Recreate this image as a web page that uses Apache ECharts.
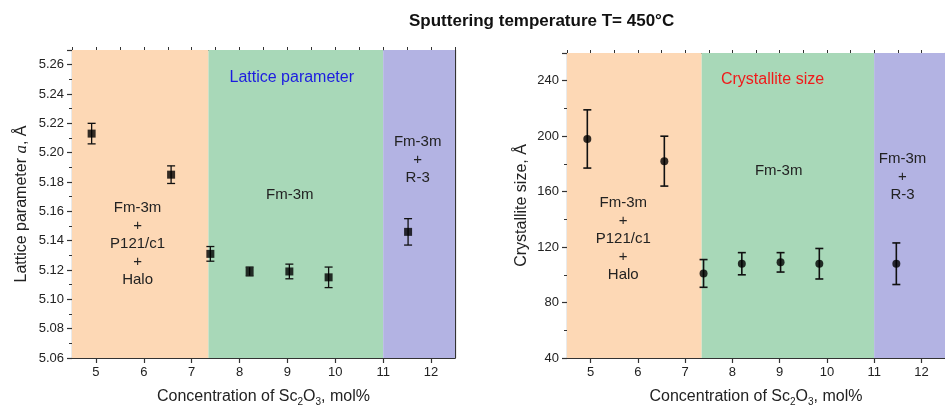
<!DOCTYPE html>
<html>
<head>
<meta charset="utf-8">
<script src="https://cdn.jsdelivr.net/npm/echarts@6/dist/echarts.min.js"></script>
<style>
  html, body { margin: 0; padding: 0; background: #fff; }
  #chart { width: 945px; height: 412px; }
</style>
</head>
<body>
<div id="chart"></div>
<script>
// Sc2O3 concentration (mol%) and lattice parameter a (Å)
const latticeX = [4.91, 6.57, 7.39, 8.21, 9.04, 9.86, 11.52];
const latticeA = [5.213, 5.185, 5.131, 5.119, 5.119, 5.115, 5.146];
const latticeErr = [0.007, 0.006, 0.005, 0.003, 0.005, 0.007, 0.009];

// Sc2O3 concentration (mol%) and crystallite size (Å)
const sizeX = [4.93, 6.56, 7.39, 8.20, 9.02, 9.84, 11.47];
const sizeD = [198, 182, 101, 108, 109, 108, 108];
const sizeErr = [21, 18, 10, 8, 7, 11, 15];

// phase regions along the concentration axis
const phaseBounds = [4.5, 7.35, 11.0, 12.5];
const phaseColors = ['#fdd8b5', '#a8d8b8', '#b3b3e3'];

const FONT = 'Liberation Sans, Arial, sans-serif';
const AXIS_COLOR = '#333';
const TEXT_COLOR = '#222';

function errorData(xs, ys, errs) {
    return xs.map((x, i) => [x, ys[i] - errs[i], ys[i] + errs[i]]);
}

function errorBarRenderer(lineWidth) {
    return (params, api) => {
        const x = api.value(0);
        const bottom = api.coord([x, api.value(1)]);
        const top = api.coord([x, api.value(2)]);
        const cap = 4;
        const style = { stroke: '#111', lineWidth };
        return {
            type: 'group',
            children: [
                { type: 'line', shape: { x1: top[0], y1: top[1], x2: bottom[0], y2: bottom[1] }, style },
                { type: 'line', shape: { x1: top[0] - cap, y1: top[1], x2: top[0] + cap, y2: top[1] }, style },
                { type: 'line', shape: { x1: bottom[0] - cap, y1: bottom[1], x2: bottom[0] + cap, y2: bottom[1] }, style },
            ],
        };
    };
}

function phaseAreas() {
    return phaseColors.map((c, i) => [
        { xAxis: phaseBounds[i], itemStyle: { color: c, opacity: 1 } },
        { xAxis: phaseBounds[i + 1] },
    ]);
}

function textMark(coord, text, extra) {
    return {
        coord,
        label: Object.assign({
            show: true, position: 'inside', formatter: text,
            fontSize: 15, lineHeight: 18, color: TEXT_COLOR, fontFamily: FONT,
        }, extra || {}),
    };
}

// main x axis, its minor ticks, and the top frame line
function xAxes(gridIndex) {
    const base = { type: 'value', gridIndex, min: 4.5, max: 12.5, splitLine: { show: false } };
    return [
        Object.assign({}, base, {
            splitNumber: 8,
            name: 'Concentration of Sc{sub|2}O{sub|3}, mol%',
            nameLocation: 'middle',
            nameGap: 29,
            nameTextStyle: {
                fontSize: 16, color: TEXT_COLOR, fontFamily: FONT, lineHeight: 20,
                rich: { sub: { fontSize: 10, verticalAlign: 'bottom', lineHeight: 20, fontFamily: FONT, color: TEXT_COLOR } },
            },
            axisLine: { lineStyle: { color: AXIS_COLOR, width: 1.2 } },
            axisTick: { length: 5, lineStyle: { color: AXIS_COLOR, width: 1.2 } },
            axisLabel: { fontSize: 13, color: TEXT_COLOR, fontFamily: FONT, margin: 8, showMinLabel: false, showMaxLabel: false },
        }),
        Object.assign({}, base, {
            interval: 0.5,
            axisLine: { show: false },
            axisTick: { length: 3, lineStyle: { color: AXIS_COLOR, width: 1 } },
            axisLabel: { show: false },
        }),
        Object.assign({}, base, {
            position: 'top',
            axisLine: { lineStyle: { color: AXIS_COLOR, width: 1.2 } },
            axisTick: { show: false },
            axisLabel: { show: false },
        }),
    ];
}

function yAxes(gridIndex, min, max, interval, decimals, name) {
    const base = { type: 'value', gridIndex, min, max, interval, splitLine: { show: false } };
    return [
        Object.assign({}, base, {
            name,
            nameLocation: 'middle',
            nameRotate: 90,
            nameGap: gridIndex === 0 ? 42 : 37,
            nameTextStyle: {
                fontSize: 16, color: TEXT_COLOR, fontFamily: FONT,
                rich: { it: { fontSize: 17, fontStyle: 'italic', fontFamily: 'Liberation Serif, serif', color: TEXT_COLOR } },
            },
            axisLine: { show: true, lineStyle: { color: AXIS_COLOR, width: 1.2 } },
            axisTick: { length: 5, lineStyle: { color: AXIS_COLOR, width: 1.2 } },
            minorTick: { show: true, splitNumber: 2, length: 3, lineStyle: { color: AXIS_COLOR } },
            axisLabel: {
                fontSize: 13, color: TEXT_COLOR, fontFamily: FONT, margin: 8, showMaxLabel: false,
                formatter: (v) => v.toFixed(decimals),
            },
        }),
        Object.assign({}, base, {
            position: 'right',
            axisLine: { show: true, lineStyle: { color: AXIS_COLOR, width: 1.2 } },
            axisTick: { show: false },
            axisLabel: { show: false },
        }),
    ];
}

const chart = echarts.init(document.getElementById('chart'), null, { renderer: 'canvas' });

const option = {
    backgroundColor: '#fff',
    animation: false,
    title: {
        text: 'Sputtering temperature T= 450°C',
        left: 404,
        top: 8,
        textStyle: { fontSize: 17, fontWeight: 'bold', color: '#111', fontFamily: FONT },
    },
    grid: [
        { left: 72, top: 50, width: 383, height: 310 },
        { left: 567, top: 53, width: 384, height: 310 },
    ],
    xAxis: [...xAxes(0), ...xAxes(1)],
    yAxis: [
        ...yAxes(0, 5.06, 5.27, 0.02, 2, 'Lattice parameter {it|a}, Å'),
        ...yAxes(1, 40, 260, 40, 0, 'Crystallite size, Å'),
    ],
    series: [
        {
            type: 'scatter',
            xAxisIndex: 0,
            yAxisIndex: 0,
            data: latticeX.map((x, i) => [x, latticeA[i]]),
            symbol: 'rect',
            symbolSize: 8,
            itemStyle: { color: '#000' },
            z: 5,
            markArea: { silent: true, data: phaseAreas() },
            markPoint: {
                symbol: 'circle',
                symbolSize: 0,
                silent: true,
                data: [
                    textMark([9.09, 5.251], 'Lattice parameter', { color: '#1c1ce0', fontSize: 16 }),
                    textMark([9.05, 5.171], 'Fm-3m'),
                    textMark([5.87, 5.138], 'Fm-3m\n+\nP121/c1\n+\nHalo'),
                    textMark([11.72, 5.195], 'Fm-3m\n+\nR-3'),
                ],
            },
        },
        {
            type: 'custom',
            xAxisIndex: 0,
            yAxisIndex: 0,
            data: errorData(latticeX, latticeA, latticeErr),
            encode: { x: 0, y: [1, 2] },
            renderItem: errorBarRenderer(1.3),
            z: 4,
        },
        {
            type: 'scatter',
            xAxisIndex: 3,
            yAxisIndex: 2,
            data: sizeX.map((x, i) => [x, sizeD[i]]),
            symbol: 'circle',
            symbolSize: 8,
            itemStyle: { color: '#000' },
            z: 5,
            markArea: { silent: true, data: phaseAreas() },
            markPoint: {
                symbol: 'circle',
                symbolSize: 0,
                silent: true,
                data: [
                    textMark([8.85, 240.8], 'Crystallite size', { color: '#f01a1a', fontSize: 16 }),
                    textMark([8.98, 174.8], 'Fm-3m'),
                    textMark([5.69, 126], 'Fm-3m\n+\nP121/c1\n+\nHalo'),
                    textMark([11.6, 170.9], 'Fm-3m\n+\nR-3'),
                ],
            },
        },
        {
            type: 'custom',
            xAxisIndex: 3,
            yAxisIndex: 2,
            data: errorData(sizeX, sizeD, sizeErr),
            encode: { x: 0, y: [1, 2] },
            renderItem: errorBarRenderer(1.6),
            z: 4,
        },
    ],
};

chart.setOption(option);
</script>
</body>
</html>
